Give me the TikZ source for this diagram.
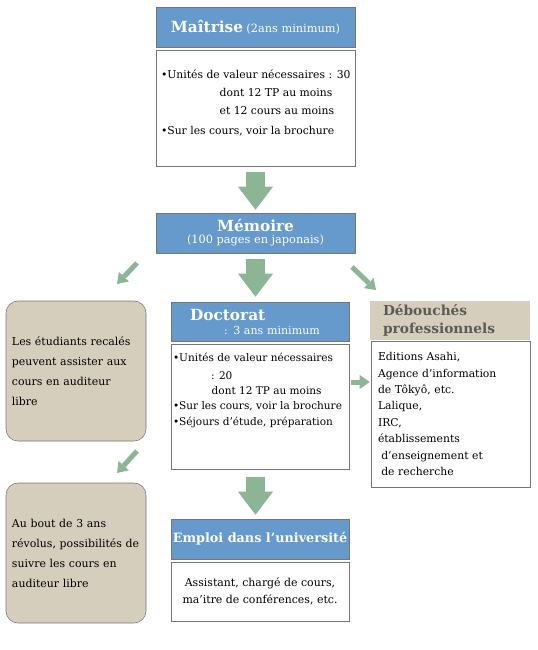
\documentclass[tikz,border=0pt]{standalone}
\usepackage{fontspec}
\setmainfont{DejaVu Serif}
\usepackage{xcolor}
\usetikzlibrary{positioning,arrows.meta}
\definecolor{headblue}{RGB}{102,153,204}
\definecolor{arrowgreen}{RGB}{140,181,150}
\definecolor{sand}{RGB}{214,206,188}
\definecolor{frame}{RGB}{118,118,118}
\definecolor{darktext}{RGB}{90,90,90}
\newcommand{\headfont}{\fontsize{11.5}{13}\selectfont\bfseries}
\newcommand{\subfont}{\fontsize{8.5}{10}\selectfont}

\begin{document}
\begin{tikzpicture}[x=0.75pt,y=-0.75pt, font=\fontsize{8}{10}\selectfont,
  headbox/.style={draw=frame,fill=headblue,text=white,inner sep=0pt,minimum height=30pt},
  bodybox/.style={draw=frame,fill=white,inner sep=0pt},
  sidebox/.style={draw=frame,fill=sand,rounded corners=9pt,minimum width=105pt,minimum height=105pt,
    inner xsep=4.5pt,text width=96pt,align=left,font=\fontsize{8.2}{15}\selectfont},
  bigarrow/.style={draw=arrowgreen,line width=14.25pt,-{Triangle[width=26.25pt,length=17.25pt,line width=0pt]}},
  smallarrow/.style={draw=arrowgreen,line width=3.75pt,-{Triangle[width=10.5pt,length=7.5pt,line width=0pt]}}]
\useasboundingbox (0,0) rectangle (537,650);

% Maitrise
\node[headbox,minimum width=149.25pt] (maithead) at (255.5,27) {{\headfont Maîtrise} {\subfont(2ans minimum)}};
\node[bodybox,minimum width=149.25pt,minimum height=87pt] (maitbody) at (255.5,108) {};
\node[anchor=north west,inner sep=0pt,align=left,font=\fontsize{8.1}{13.5}\selectfont] (maittext)
  at ([xshift=3.75pt,yshift=-15pt]maitbody.north west)
  {\textbullet Unités de valeur nécessaires : 30\\
   \hspace*{44pt}dont 12 TP au moins\\
   \hspace*{44pt}et 12 cours au moins\\[1.5pt]
   \textbullet Sur les cours, voir la brochure};

% Memoire
\node[headbox,minimum width=149.25pt,align=center] (memoire) at (255.5,233)
  {{\headfont Mémoire}\\[-1pt]{\subfont(100 pages en japonais)}};

% Doctorat
\node[headbox,minimum width=133.5pt,minimum height=29.25pt,text width=133.5pt,align=left,font=\fontsize{8.3}{10.5}\selectfont] (docthead) at (260,321.5)
  {\hspace*{14.25pt}{\headfont Doctorat}\\\hspace*{39.75pt}: 3 ans minimum};
\node[bodybox,minimum width=133.5pt,minimum height=93.75pt] (doctbody) at (260,406.5) {};
\node[anchor=north west,inner sep=0pt,align=left,font=\fontsize{7.9}{11.5}\selectfont] (docttext)
  at ([xshift=1.5pt,yshift=-7pt]doctbody.north west)
  {\textbullet Unités de valeur nécessaires\\[1.5pt]
   \hspace*{28.5pt}: 20\\
   \hspace*{29pt}dont 12 TP au moins\\
   \textbullet Sur les cours, voir la brochure\\
   \textbullet Séjours d’étude, préparation};

% Emploi
\node[headbox,minimum width=133.5pt] (emphead) at (260,539) {\fontsize{9.6}{12}\selectfont\bfseries Emploi dans l’université};
\node[bodybox,minimum width=133.5pt,minimum height=44.25pt,align=center,font=\fontsize{8.2}{12.75}\selectfont] (empbody) at (260,591.5)
  {Assistant, chargé de cours,\\ma’itre de conférences, etc.};

% Debouches
\node[fill=sand,text=darktext,minimum width=120pt,minimum height=29.25pt,inner sep=0pt,text width=120pt,align=left,font=\fontsize{10.3}{13.5}\selectfont\bfseries] (debhead) at (450,320.5)
  {\hspace*{9.75pt}Débouchés\\\hspace*{9.75pt}professionnels};
\node[bodybox,minimum width=119.25pt,minimum height=109.5pt,inner xsep=5.25pt,text width=108.75pt,align=left,font=\fontsize{8.1}{12.3}\selectfont] (debbody) at (450.5,414)
  {Editions Asahi,\\Agence d’information\\de Tôkyô, etc.\\Lalique,\\IRC,\\établissements\\
   \hspace*{2.5pt}d’enseignement et\\\hspace*{2.5pt}de recherche};

% cotes gauches
\node[sidebox] (recales) at (76,371) {Les étudiants recalés\\peuvent assister aux\\cours en auditeur\\libre};
\node[sidebox] (revolus) at (76,553) {Au bout de 3 ans\\révolus, possibilités de\\suivre les cours en\\auditeur libre};

% fleches
\draw[bigarrow,shorten <=4.5pt,shorten >=2.25pt] (maitbody) -- (memoire);
\draw[bigarrow,shorten <=4.5pt,shorten >=3.75pt] (memoire.south) -- (memoire.south |- docthead.north);
\draw[bigarrow,shorten <=6pt,shorten >=3pt] (memoire.south |- doctbody.south) -- (memoire.south |- emphead.north);

\coordinate (echecA) at (137,263);
\coordinate (echecB) at (117,284);
\coordinate (debA) at (352,267);
\coordinate (debB) at (376,290);
\coordinate (libreA) at (137,451);
\coordinate (libreB) at (117,473);
\draw[smallarrow] (echecA) -- (echecB);
\draw[smallarrow] (debA) -- (debB);
\draw[smallarrow] (libreA) -- (libreB);
\draw[smallarrow,shorten <=1.5pt,shorten >=0.75pt] (doctbody.east |- 0,382) -- (debbody.west |- 0,382);
\end{tikzpicture}
\end{document}
